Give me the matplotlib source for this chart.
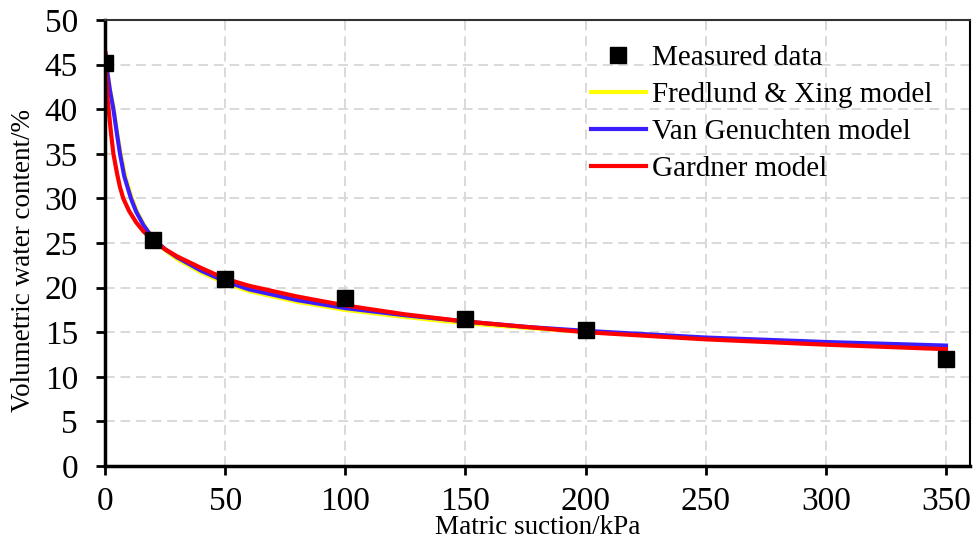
import matplotlib

matplotlib.use("Agg")

import matplotlib.pyplot as plt

plt.rcParams["font.family"] = ["Liberation Serif", "DejaVu Serif"]

# measured points
suction = [0, 20, 50, 100, 150, 200, 350]
water = [45.2, 25.3, 21.0, 18.8, 16.5, 15.2, 12.0]

# fitted curves
fx_x = [0.2, 0.5, 1, 2, 3.7, 5, 6.5, 8.5, 11.2, 13.5, 16.5, 20, 25, 30, 40, 50, 60, 80, 100, 125, 150, 175, 200, 250, 300, 350]
fx_y = [46.1, 45.4, 44.2, 42.3, 40.0, 37.4, 35.0, 32.4, 30.0, 28.4, 26.9, 25.6, 24.2, 23.2, 21.7, 20.5, 19.6, 18.4, 17.5, 16.7, 16.0, 15.5, 15.05, 14.3, 13.8, 13.4]

vg_x = [0.2, 0.5, 1, 2, 3.5, 5, 6.25, 8, 10.8, 13, 16, 20, 25, 30, 40, 50, 60, 80, 100, 125, 150, 175, 200, 250, 300, 350]
vg_y = [46.1, 45.4, 44.1, 42.2, 40.0, 37.2, 35.0, 32.5, 30.0, 28.5, 27.0, 25.5, 24.3, 23.4, 21.9, 20.7, 19.8, 18.6, 17.7, 16.9, 16.2, 15.6, 15.15, 14.4, 13.9, 13.5]

gd_x = [0.2, 0.5, 1, 1.5, 2.5, 3.5, 5, 6.2, 7.6, 10, 13, 16, 20, 25, 30, 40, 50, 60, 80, 100, 125, 150, 175, 200, 250, 300, 350]
gd_y = [46.3, 43.6, 41.3, 40.0, 37.3, 35.0, 32.8, 31.3, 30.0, 28.6, 27.3, 26.3, 25.3, 24.3, 23.5, 22.2, 21.0, 20.2, 19.0, 18.0, 17.0, 16.2, 15.6, 15.0, 14.2, 13.6, 13.1]

xticks = [0, 50, 100, 150, 200, 250, 300, 350]
yticks = [0, 5, 10, 15, 20, 25, 30, 35, 40, 45, 50]

fig = plt.figure(figsize=(9.76, 5.45), dpi=100)
ax = fig.add_axes([105 / 976, 1 - 466 / 545, 865 / 976, 446 / 545])

ax.plot(suction, water, "s", color="black", markersize=11, label="Measured data", zorder=5)
ax.plot(fx_x, fx_y, color="#ffff00", lw=3, label="Fredlund & Xing model")
ax.plot(vg_x, vg_y, color="#3a1eff", lw=3, label="Van Genuchten model")
ax.plot(gd_x, gd_y, color="#ff0000", lw=3, label="Gardner model")

ax.set_xlim(0, 360)
ax.set_ylim(0, 50)
ax.set_xticks(xticks)
ax.set_yticks(yticks)
ax.grid(True, color="#d9d9d9", linestyle=(0, (5, 3)), linewidth=1.4)
ax.set_axisbelow(True)

ax.tick_params(axis="both", direction="out", length=6.5, width=2, labelsize=24)
ax.tick_params(axis="y", pad=13)
ax.tick_params(axis="x", pad=8)
for side in ["left", "bottom"]:
    ax.spines[side].set_linewidth(2.5)
ax.spines["top"].set_linewidth(1.5)
ax.spines["top"].set_color("#333333")
ax.spines["right"].set_linewidth(1.5)

ax.set_xlabel("Matric suction/kPa", fontsize=19.5, labelpad=-1)
ax.set_ylabel("Volumetric water content/%", fontsize=19.5)
ax.yaxis.set_label_coords(-0.0795, 0.46)

ax.legend(loc="upper left", bbox_to_anchor=(0.538, 0.99), frameon=False, fontsize=21,
          handlelength=1.9, handletextpad=0.2, labelspacing=0.36, borderaxespad=0.3)

fig.savefig("out.png", dpi=100)
